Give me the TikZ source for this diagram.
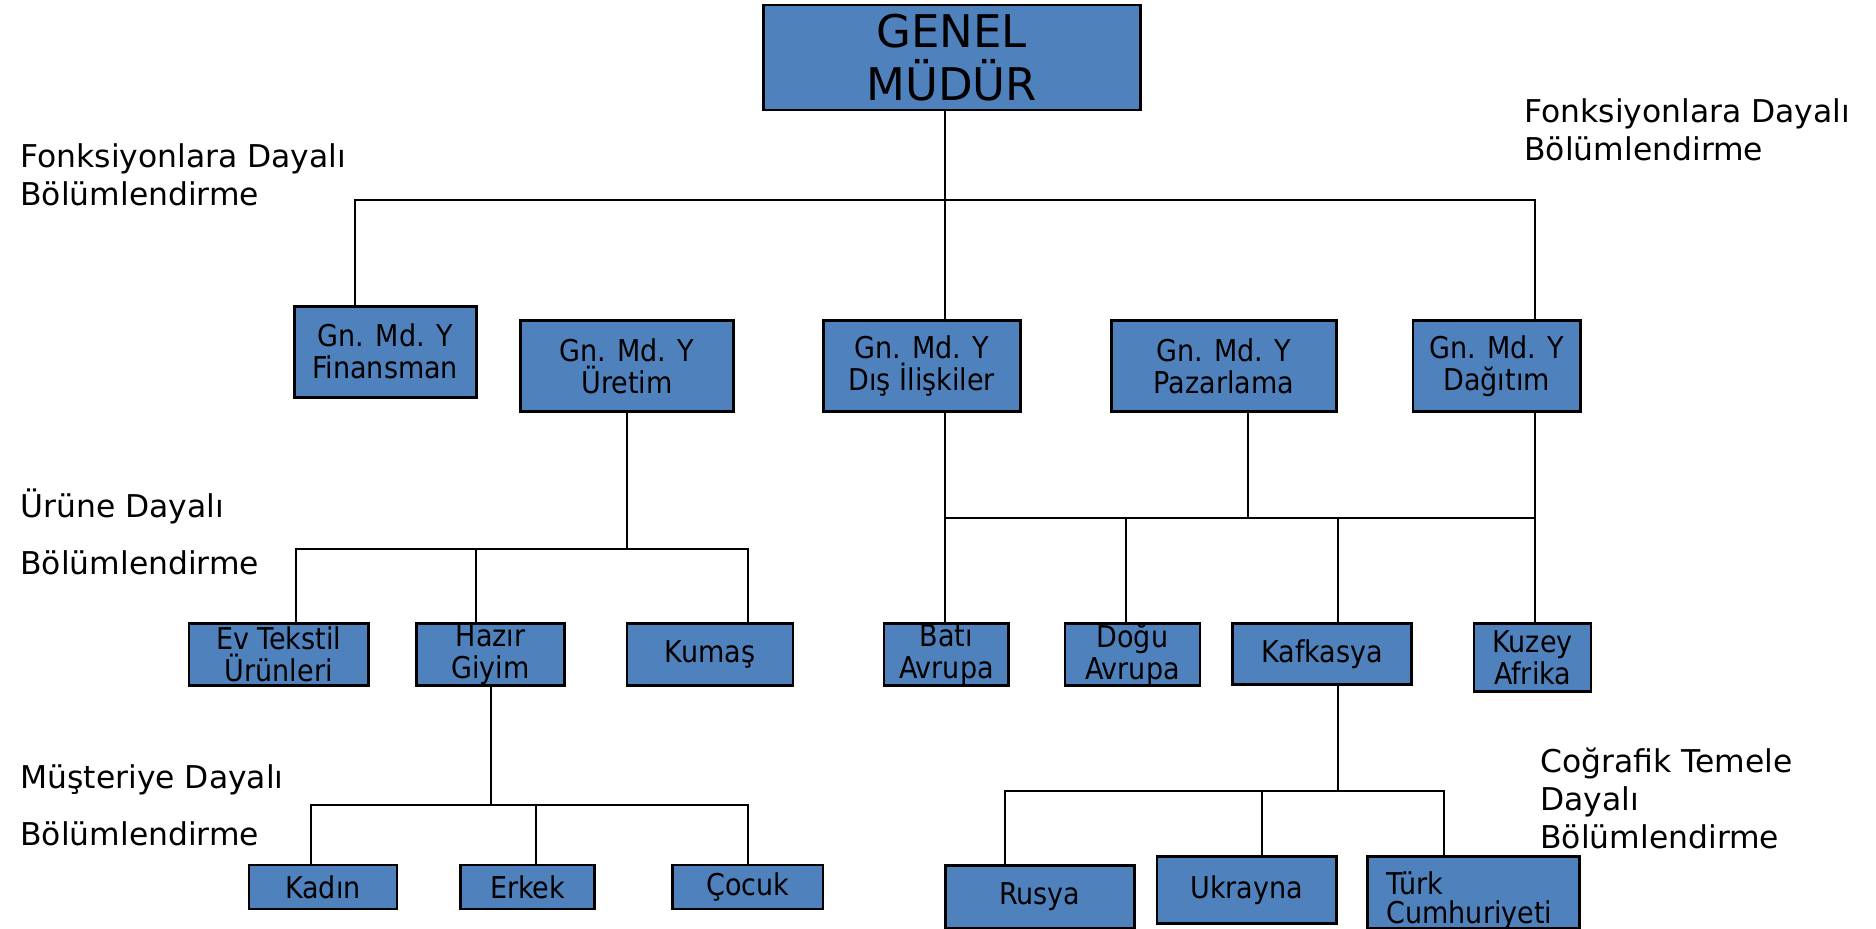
\documentclass[tikz,border=0pt]{standalone}
\usepackage{fontspec}
\setmainfont{DejaVu Sans}
\newfontfamily\condfont{DejaVu Sans Condensed}
\usepackage{tikz}
\usepackage{xcolor}
\definecolor{unitblue}{RGB}{79,129,189}
\tikzset{
unit/.style={draw=black,line width=1.3pt,fill=unitblue,align=center,inner sep=0pt,
  font=\condfont\fontsize{15}{16}\selectfont},
link/.style={line width=1pt},
note/.style={anchor=west,align=left,inner sep=0pt,font=\fontsize{15.7}{19}\selectfont}
}

\begin{document}
\begin{tikzpicture}[x=0.5pt,y=-0.5pt]
\useasboundingbox (0,0) rectangle (1876,928);
% boxes
\node[unit,minimum width=188.5pt,minimum height=52.5pt,font=\fontsize{22.5}{26.5}\selectfont] (gm) at (951.7,57.4) {GENEL\\MÜDÜR};
\node[unit,minimum width=91pt,minimum height=45.5pt] (fin) at (385.2,351.7) {Gn. Md. Y\\Finansman};
\node[unit,minimum width=106.5pt,minimum height=45.5pt] (uret) at (626.9,366.1) {Gn. Md. Y\\Üretim};
\node[unit,minimum width=98.5pt,minimum height=45.5pt] (dis) at (921.8,366.1) {Gn. Md. Y\\Dış İlişkiler};
\node[unit,minimum width=112.5pt,minimum height=45.5pt] (paz) at (1224,366.1) {Gn. Md. Y\\Pazarlama};
\node[unit,minimum width=83.75pt,minimum height=45.5pt] (dag) at (1496.7,366.1) {Gn. Md. Y\\Dağıtım};
\node[unit,minimum width=89.75pt,minimum height=31pt] (ev) at (278.8,654.4) {Ev Tekstil\\Ürünleri};
\node[unit,minimum width=74.2pt,minimum height=31pt] (hazir) at (490.5,654.4) {Hazır\\Giyim};
\node[unit,minimum width=83pt,minimum height=31pt] (kumas) at (710,654.4) {Kumaş};
\node[unit,minimum width=74pt,minimum height=22pt] (kadin) at (323,887) {Kadın};
\node[unit,minimum width=67pt,minimum height=22pt] (erkek) at (527.6,887) {Erkek};
\node[unit,minimum width=75.35pt,minimum height=22pt] (cocuk) at (747.7,887) {Çocuk};
\node[unit,minimum width=62.25pt,minimum height=31pt] (bati) at (946.4,654.4) {Batı\\Avrupa};
\node[unit,minimum width=67.5pt,minimum height=31pt] (dogu) at (1132.4,654.4) {Doğu\\Avrupa};
\node[unit,minimum width=89.75pt,minimum height=30.5pt] (kafk) at (1322,653.8) {Kafkasya};
\node[unit,minimum width=58.5pt,minimum height=34pt] (kuzey) at (1532.6,657.4) {Kuzey\\Afrika};
\node[unit,minimum width=94.5pt,minimum height=31.5pt] (rusya) at (1039.7,896.7) {Rusya};
\node[unit,minimum width=89.7pt,minimum height=33.5pt] (ukr) at (1246.7,890.1) {Ukrayna};
\node[unit,minimum width=105.85pt,minimum height=35.7pt,
  label={[anchor=north west,inner sep=0pt,align=left,font=\condfont\fontsize{15}{14.5}\selectfont]north west:\hspace*{10pt}\rule{0pt}{19.5pt}Türk\\\hspace*{10pt}Cumhuriyeti}] (turk) at (1473.4,892.3) {};

% labels
\node[note] (fonkL) at (20,175) {Fonksiyonlara Dayalı\\Bölümlendirme};
\node[note] (fonkR) at (1524,130) {Fonksiyonlara Dayalı\\Bölümlendirme};
\node[note] (urun) at (20,532) {Ürüne Dayalı\\[9.5pt]Bölümlendirme};
\node[note] (must) at (20,805) {Müşteriye Dayalı\\[9.5pt]Bölümlendirme};
\node[note] (cograf) at (1540,798) {Coğrafik Temele\\Dayalı\\Bölümlendirme};

% bars
\coordinate (t0) at (945,200);
\coordinate (t1) at (355,200);
\coordinate (t2) at (1535,200);
\coordinate (u1) at (295.5,549);
\coordinate (u2) at (747.8,549);
\coordinate (u3) at (476.2,549);
\coordinate (h1) at (311,805);
\coordinate (h2) at (747.8,805);
\coordinate (h3) at (536,805);
\coordinate (r1) at (945,518);
\coordinate (r2) at (1535,518);
\coordinate (r3) at (1247.8,518);
\coordinate (r4) at (1125.8,518);
\coordinate (r5) at (1337.6,518);
\coordinate (k0) at (1337.6,791);
\coordinate (k1) at (1005,791);
\coordinate (k2) at (1444,791);
\coordinate (k3) at (1262.2,791);

\draw[link] (t0 |- gm.south) -- (t0 |- dis.north);
\draw[link] (t1 |- fin.north) -- (t1) -- (t2) -- (t2 |- dag.north);

\draw[link] (uret.south) -- (uret.south |- u1);
\draw[link] (u1 |- ev.north) -- (u1) -- (u2) -- (u2 |- kumas.north);
\draw[link] (u3) -- (u3 |- hazir.north);
\draw[link] (hazir.south) -- (hazir.south |- h1);
\draw[link] (h1 |- kadin.north) -- (h1) -- (h2) -- (h2 |- cocuk.north);
\draw[link] (h3) -- (h3 |- erkek.north);

\draw[link] (r1 |- dis.south) -- (r1 |- bati.north);
\draw[link] (r1) -- (r2);
\draw[link] (r2 |- dag.south) -- (r2 |- kuzey.north);
\draw[link] (r3 |- paz.south) -- (r3);
\draw[link] (r4) -- (r4 |- dogu.north);
\draw[link] (r5) -- (r5 |- kafk.north);

\draw[link] (k0 |- kafk.south) -- (k0);
\draw[link] (k1 |- rusya.north) -- (k1) -- (k2) -- (k2 |- turk.north);
\draw[link] (k3) -- (k3 |- ukr.north);
\end{tikzpicture}
\end{document}
